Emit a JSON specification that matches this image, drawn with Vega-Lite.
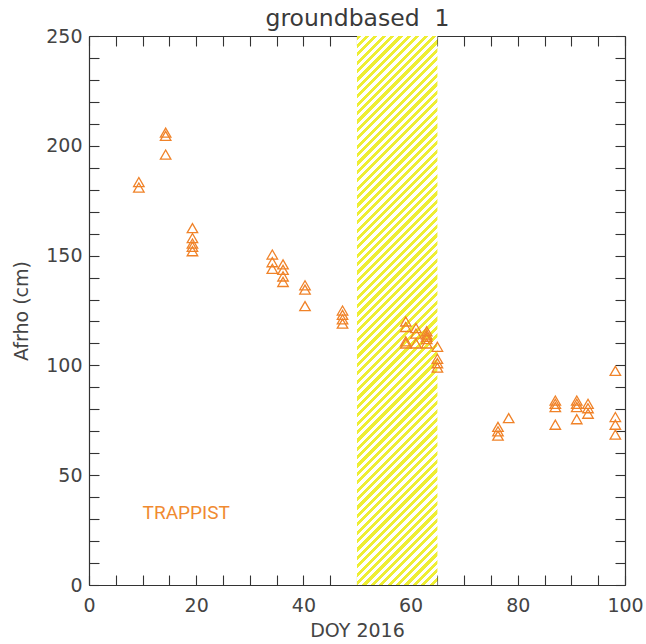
{
  "$schema": "https://vega.github.io/schema/vega-lite/v6.json",
  "description": "Afrho versus day of year 2016, ground-based TRAPPIST data with a hatched interval.",
  "width": 536,
  "height": 549,
  "autosize": "none",
  "padding": {"left": 89, "top": 36, "right": 21, "bottom": 59},
  "background": "white",
  "config": {
    "view": {"stroke": null},
    "axis": {
      "grid": false,
      "zindex": 1,
      "domainColor": "#333333",
      "domainWidth": 1.2,
      "tickColor": "#333333",
      "tickWidth": 1.1,
      "labelColor": "#444444",
      "titleColor": "#444444",
      "labelFont": "DejaVu Sans",
      "titleFont": "DejaVu Sans",
      "labelFontSize": 19,
      "titleFontSize": 19,
      "titleFontWeight": "normal",
      "labelOverlap": false,
      "labelFlush": false
    }
  },
  "datasets": {
    "band": [{"start": 50, "end": 65, "lo": 0, "hi": 250}],
    "points": [
      {"doy": 9.3, "afrho": 183.5}, {"doy": 9.3, "afrho": 181},
      {"doy": 14.3, "afrho": 206}, {"doy": 14.3, "afrho": 204.5}, {"doy": 14.3, "afrho": 196},
      {"doy": 19.3, "afrho": 162.5}, {"doy": 19.3, "afrho": 158}, {"doy": 19.3, "afrho": 155.5}, {"doy": 19.3, "afrho": 154}, {"doy": 19.3, "afrho": 152},
      {"doy": 34.2, "afrho": 150.5}, {"doy": 34.2, "afrho": 147}, {"doy": 34.2, "afrho": 144},
      {"doy": 36.2, "afrho": 146}, {"doy": 36.2, "afrho": 143.5}, {"doy": 36.2, "afrho": 140.5}, {"doy": 36.2, "afrho": 138},
      {"doy": 40.3, "afrho": 136.5}, {"doy": 40.3, "afrho": 134.5}, {"doy": 40.3, "afrho": 127},
      {"doy": 47.3, "afrho": 125}, {"doy": 47.3, "afrho": 123}, {"doy": 47.3, "afrho": 121}, {"doy": 47.3, "afrho": 119},
      {"doy": 59.1, "afrho": 120}, {"doy": 59.1, "afrho": 117.5}, {"doy": 59.1, "afrho": 111}, {"doy": 59.1, "afrho": 110},
      {"doy": 61, "afrho": 117}, {"doy": 61, "afrho": 114.5}, {"doy": 61, "afrho": 110},
      {"doy": 63, "afrho": 115.5}, {"doy": 63, "afrho": 114}, {"doy": 63, "afrho": 113}, {"doy": 63, "afrho": 112}, {"doy": 63, "afrho": 110},
      {"doy": 65, "afrho": 108.5}, {"doy": 65, "afrho": 103}, {"doy": 65, "afrho": 101}, {"doy": 65, "afrho": 99},
      {"doy": 76.3, "afrho": 72}, {"doy": 76.3, "afrho": 70}, {"doy": 76.3, "afrho": 68},
      {"doy": 78.3, "afrho": 76},
      {"doy": 87, "afrho": 84}, {"doy": 87, "afrho": 82.5}, {"doy": 87, "afrho": 81}, {"doy": 87, "afrho": 73},
      {"doy": 91, "afrho": 84}, {"doy": 91, "afrho": 82.5}, {"doy": 91, "afrho": 81}, {"doy": 91, "afrho": 75.5},
      {"doy": 93.1, "afrho": 82.5}, {"doy": 93.1, "afrho": 80.5}, {"doy": 93.1, "afrho": 78},
      {"doy": 98.2, "afrho": 97.5}, {"doy": 98.2, "afrho": 76.5}, {"doy": 98.2, "afrho": 73}, {"doy": 98.2, "afrho": 68.5}
    ],
    "note": [{"label": "TRAPPIST", "doy": 10, "afrho": 30}]
  },
  "layer": [
    {
      "data": {"name": "band"},
      "mark": {
        "type": "rect",
        "fill": {
          "gradient": "linear",
          "x1": 0, "y1": 0, "x2": 0.16437, "y2": 1.12238,
          "stops": [
            {"offset":0,"color":"#ee3"},
            {"offset":0.00667,"color":"#ee3"},{"offset":0.00667,"color":"#fff"},{"offset":0.01333,"color":"#fff"},{"offset":0.01333,"color":"#ee3"},
            {"offset":0.02,"color":"#ee3"},{"offset":0.02,"color":"#fff"},{"offset":0.02667,"color":"#fff"},{"offset":0.02667,"color":"#ee3"},
            {"offset":0.03333,"color":"#ee3"},{"offset":0.03333,"color":"#fff"},{"offset":0.04,"color":"#fff"},{"offset":0.04,"color":"#ee3"},
            {"offset":0.04667,"color":"#ee3"},{"offset":0.04667,"color":"#fff"},{"offset":0.05333,"color":"#fff"},{"offset":0.05333,"color":"#ee3"},
            {"offset":0.06,"color":"#ee3"},{"offset":0.06,"color":"#fff"},{"offset":0.06667,"color":"#fff"},{"offset":0.06667,"color":"#ee3"},
            {"offset":0.07333,"color":"#ee3"},{"offset":0.07333,"color":"#fff"},{"offset":0.08,"color":"#fff"},{"offset":0.08,"color":"#ee3"},
            {"offset":0.08667,"color":"#ee3"},{"offset":0.08667,"color":"#fff"},{"offset":0.09333,"color":"#fff"},{"offset":0.09333,"color":"#ee3"},
            {"offset":0.1,"color":"#ee3"},{"offset":0.1,"color":"#fff"},{"offset":0.10667,"color":"#fff"},{"offset":0.10667,"color":"#ee3"},
            {"offset":0.11333,"color":"#ee3"},{"offset":0.11333,"color":"#fff"},{"offset":0.12,"color":"#fff"},{"offset":0.12,"color":"#ee3"},
            {"offset":0.12667,"color":"#ee3"},{"offset":0.12667,"color":"#fff"},{"offset":0.13333,"color":"#fff"},{"offset":0.13333,"color":"#ee3"},
            {"offset":0.14,"color":"#ee3"},{"offset":0.14,"color":"#fff"},{"offset":0.14667,"color":"#fff"},{"offset":0.14667,"color":"#ee3"},
            {"offset":0.15333,"color":"#ee3"},{"offset":0.15333,"color":"#fff"},{"offset":0.16,"color":"#fff"},{"offset":0.16,"color":"#ee3"},
            {"offset":0.16667,"color":"#ee3"},{"offset":0.16667,"color":"#fff"},{"offset":0.17333,"color":"#fff"},{"offset":0.17333,"color":"#ee3"},
            {"offset":0.18,"color":"#ee3"},{"offset":0.18,"color":"#fff"},{"offset":0.18667,"color":"#fff"},{"offset":0.18667,"color":"#ee3"},
            {"offset":0.19333,"color":"#ee3"},{"offset":0.19333,"color":"#fff"},{"offset":0.2,"color":"#fff"},{"offset":0.2,"color":"#ee3"},
            {"offset":0.20667,"color":"#ee3"},{"offset":0.20667,"color":"#fff"},{"offset":0.21333,"color":"#fff"},{"offset":0.21333,"color":"#ee3"},
            {"offset":0.22,"color":"#ee3"},{"offset":0.22,"color":"#fff"},{"offset":0.22667,"color":"#fff"},{"offset":0.22667,"color":"#ee3"},
            {"offset":0.23333,"color":"#ee3"},{"offset":0.23333,"color":"#fff"},{"offset":0.24,"color":"#fff"},{"offset":0.24,"color":"#ee3"},
            {"offset":0.24667,"color":"#ee3"},{"offset":0.24667,"color":"#fff"},{"offset":0.25333,"color":"#fff"},{"offset":0.25333,"color":"#ee3"},
            {"offset":0.26,"color":"#ee3"},{"offset":0.26,"color":"#fff"},{"offset":0.26667,"color":"#fff"},{"offset":0.26667,"color":"#ee3"},
            {"offset":0.27333,"color":"#ee3"},{"offset":0.27333,"color":"#fff"},{"offset":0.28,"color":"#fff"},{"offset":0.28,"color":"#ee3"},
            {"offset":0.28667,"color":"#ee3"},{"offset":0.28667,"color":"#fff"},{"offset":0.29333,"color":"#fff"},{"offset":0.29333,"color":"#ee3"},
            {"offset":0.3,"color":"#ee3"},{"offset":0.3,"color":"#fff"},{"offset":0.30667,"color":"#fff"},{"offset":0.30667,"color":"#ee3"},
            {"offset":0.31333,"color":"#ee3"},{"offset":0.31333,"color":"#fff"},{"offset":0.32,"color":"#fff"},{"offset":0.32,"color":"#ee3"},
            {"offset":0.32667,"color":"#ee3"},{"offset":0.32667,"color":"#fff"},{"offset":0.33333,"color":"#fff"},{"offset":0.33333,"color":"#ee3"},
            {"offset":0.34,"color":"#ee3"},{"offset":0.34,"color":"#fff"},{"offset":0.34667,"color":"#fff"},{"offset":0.34667,"color":"#ee3"},
            {"offset":0.35333,"color":"#ee3"},{"offset":0.35333,"color":"#fff"},{"offset":0.36,"color":"#fff"},{"offset":0.36,"color":"#ee3"},
            {"offset":0.36667,"color":"#ee3"},{"offset":0.36667,"color":"#fff"},{"offset":0.37333,"color":"#fff"},{"offset":0.37333,"color":"#ee3"},
            {"offset":0.38,"color":"#ee3"},{"offset":0.38,"color":"#fff"},{"offset":0.38667,"color":"#fff"},{"offset":0.38667,"color":"#ee3"},
            {"offset":0.39333,"color":"#ee3"},{"offset":0.39333,"color":"#fff"},{"offset":0.4,"color":"#fff"},{"offset":0.4,"color":"#ee3"},
            {"offset":0.40667,"color":"#ee3"},{"offset":0.40667,"color":"#fff"},{"offset":0.41333,"color":"#fff"},{"offset":0.41333,"color":"#ee3"},
            {"offset":0.42,"color":"#ee3"},{"offset":0.42,"color":"#fff"},{"offset":0.42667,"color":"#fff"},{"offset":0.42667,"color":"#ee3"},
            {"offset":0.43333,"color":"#ee3"},{"offset":0.43333,"color":"#fff"},{"offset":0.44,"color":"#fff"},{"offset":0.44,"color":"#ee3"},
            {"offset":0.44667,"color":"#ee3"},{"offset":0.44667,"color":"#fff"},{"offset":0.45333,"color":"#fff"},{"offset":0.45333,"color":"#ee3"},
            {"offset":0.46,"color":"#ee3"},{"offset":0.46,"color":"#fff"},{"offset":0.46667,"color":"#fff"},{"offset":0.46667,"color":"#ee3"},
            {"offset":0.47333,"color":"#ee3"},{"offset":0.47333,"color":"#fff"},{"offset":0.48,"color":"#fff"},{"offset":0.48,"color":"#ee3"},
            {"offset":0.48667,"color":"#ee3"},{"offset":0.48667,"color":"#fff"},{"offset":0.49333,"color":"#fff"},{"offset":0.49333,"color":"#ee3"},
            {"offset":0.5,"color":"#ee3"},{"offset":0.5,"color":"#fff"},{"offset":0.50667,"color":"#fff"},{"offset":0.50667,"color":"#ee3"},
            {"offset":0.51333,"color":"#ee3"},{"offset":0.51333,"color":"#fff"},{"offset":0.52,"color":"#fff"},{"offset":0.52,"color":"#ee3"},
            {"offset":0.52667,"color":"#ee3"},{"offset":0.52667,"color":"#fff"},{"offset":0.53333,"color":"#fff"},{"offset":0.53333,"color":"#ee3"},
            {"offset":0.54,"color":"#ee3"},{"offset":0.54,"color":"#fff"},{"offset":0.54667,"color":"#fff"},{"offset":0.54667,"color":"#ee3"},
            {"offset":0.55333,"color":"#ee3"},{"offset":0.55333,"color":"#fff"},{"offset":0.56,"color":"#fff"},{"offset":0.56,"color":"#ee3"},
            {"offset":0.56667,"color":"#ee3"},{"offset":0.56667,"color":"#fff"},{"offset":0.57333,"color":"#fff"},{"offset":0.57333,"color":"#ee3"},
            {"offset":0.58,"color":"#ee3"},{"offset":0.58,"color":"#fff"},{"offset":0.58667,"color":"#fff"},{"offset":0.58667,"color":"#ee3"},
            {"offset":0.59333,"color":"#ee3"},{"offset":0.59333,"color":"#fff"},{"offset":0.6,"color":"#fff"},{"offset":0.6,"color":"#ee3"},
            {"offset":0.60667,"color":"#ee3"},{"offset":0.60667,"color":"#fff"},{"offset":0.61333,"color":"#fff"},{"offset":0.61333,"color":"#ee3"},
            {"offset":0.62,"color":"#ee3"},{"offset":0.62,"color":"#fff"},{"offset":0.62667,"color":"#fff"},{"offset":0.62667,"color":"#ee3"},
            {"offset":0.63333,"color":"#ee3"},{"offset":0.63333,"color":"#fff"},{"offset":0.64,"color":"#fff"},{"offset":0.64,"color":"#ee3"},
            {"offset":0.64667,"color":"#ee3"},{"offset":0.64667,"color":"#fff"},{"offset":0.65333,"color":"#fff"},{"offset":0.65333,"color":"#ee3"},
            {"offset":0.66,"color":"#ee3"},{"offset":0.66,"color":"#fff"},{"offset":0.66667,"color":"#fff"},{"offset":0.66667,"color":"#ee3"},
            {"offset":0.67333,"color":"#ee3"},{"offset":0.67333,"color":"#fff"},{"offset":0.68,"color":"#fff"},{"offset":0.68,"color":"#ee3"},
            {"offset":0.68667,"color":"#ee3"},{"offset":0.68667,"color":"#fff"},{"offset":0.69333,"color":"#fff"},{"offset":0.69333,"color":"#ee3"},
            {"offset":0.7,"color":"#ee3"},{"offset":0.7,"color":"#fff"},{"offset":0.70667,"color":"#fff"},{"offset":0.70667,"color":"#ee3"},
            {"offset":0.71333,"color":"#ee3"},{"offset":0.71333,"color":"#fff"},{"offset":0.72,"color":"#fff"},{"offset":0.72,"color":"#ee3"},
            {"offset":0.72667,"color":"#ee3"},{"offset":0.72667,"color":"#fff"},{"offset":0.73333,"color":"#fff"},{"offset":0.73333,"color":"#ee3"},
            {"offset":0.74,"color":"#ee3"},{"offset":0.74,"color":"#fff"},{"offset":0.74667,"color":"#fff"},{"offset":0.74667,"color":"#ee3"},
            {"offset":0.75333,"color":"#ee3"},{"offset":0.75333,"color":"#fff"},{"offset":0.76,"color":"#fff"},{"offset":0.76,"color":"#ee3"},
            {"offset":0.76667,"color":"#ee3"},{"offset":0.76667,"color":"#fff"},{"offset":0.77333,"color":"#fff"},{"offset":0.77333,"color":"#ee3"},
            {"offset":0.78,"color":"#ee3"},{"offset":0.78,"color":"#fff"},{"offset":0.78667,"color":"#fff"},{"offset":0.78667,"color":"#ee3"},
            {"offset":0.79333,"color":"#ee3"},{"offset":0.79333,"color":"#fff"},{"offset":0.8,"color":"#fff"},{"offset":0.8,"color":"#ee3"},
            {"offset":0.80667,"color":"#ee3"},{"offset":0.80667,"color":"#fff"},{"offset":0.81333,"color":"#fff"},{"offset":0.81333,"color":"#ee3"},
            {"offset":0.82,"color":"#ee3"},{"offset":0.82,"color":"#fff"},{"offset":0.82667,"color":"#fff"},{"offset":0.82667,"color":"#ee3"},
            {"offset":0.83333,"color":"#ee3"},{"offset":0.83333,"color":"#fff"},{"offset":0.84,"color":"#fff"},{"offset":0.84,"color":"#ee3"},
            {"offset":0.84667,"color":"#ee3"},{"offset":0.84667,"color":"#fff"},{"offset":0.85333,"color":"#fff"},{"offset":0.85333,"color":"#ee3"},
            {"offset":0.86,"color":"#ee3"},{"offset":0.86,"color":"#fff"},{"offset":0.86667,"color":"#fff"},{"offset":0.86667,"color":"#ee3"},
            {"offset":0.87333,"color":"#ee3"},{"offset":0.87333,"color":"#fff"},{"offset":0.88,"color":"#fff"},{"offset":0.88,"color":"#ee3"},
            {"offset":0.88667,"color":"#ee3"},{"offset":0.88667,"color":"#fff"},{"offset":0.89333,"color":"#fff"},{"offset":0.89333,"color":"#ee3"},
            {"offset":0.9,"color":"#ee3"},{"offset":0.9,"color":"#fff"},{"offset":0.90667,"color":"#fff"},{"offset":0.90667,"color":"#ee3"},
            {"offset":0.91333,"color":"#ee3"},{"offset":0.91333,"color":"#fff"},{"offset":0.92,"color":"#fff"},{"offset":0.92,"color":"#ee3"},
            {"offset":0.92667,"color":"#ee3"},{"offset":0.92667,"color":"#fff"},{"offset":0.93333,"color":"#fff"},{"offset":0.93333,"color":"#ee3"},
            {"offset":0.94,"color":"#ee3"},{"offset":0.94,"color":"#fff"},{"offset":0.94667,"color":"#fff"},{"offset":0.94667,"color":"#ee3"},
            {"offset":0.95333,"color":"#ee3"},{"offset":0.95333,"color":"#fff"},{"offset":0.96,"color":"#fff"},{"offset":0.96,"color":"#ee3"},
            {"offset":0.96667,"color":"#ee3"},{"offset":0.96667,"color":"#fff"},{"offset":0.97333,"color":"#fff"},{"offset":0.97333,"color":"#ee3"},
            {"offset":0.98,"color":"#ee3"},{"offset":0.98,"color":"#fff"},{"offset":0.98667,"color":"#fff"},{"offset":0.98667,"color":"#ee3"},
            {"offset":0.99333,"color":"#ee3"},{"offset":0.99333,"color":"#fff"},{"offset":1,"color":"#fff"}
          ]
        }
      },
      "encoding": {
        "x": {
          "field": "start",
          "type": "quantitative",
          "scale": {"domain": [0, 100], "nice": false, "zero": false},
          "axis": {
            "orient": "bottom",
            "values": [0, 5, 10, 15, 20, 25, 30, 35, 40, 45, 50, 55, 60, 65, 70, 75, 80, 85, 90, 95, 100],
            "labelExpr": "datum.value % 20 === 0 ? datum.label : ''",
            "tickSize": -10,
            "labelPadding": 21,
            "title": "DOY 2016",
            "titlePadding": 6,
            "encode": {"ticks": {"update": {"y2": {"signal": "datum.value % 20 === 0 ? -10 : -5"}}}}
          }
        },
        "x2": {"field": "end"},
        "y": {
          "field": "lo",
          "type": "quantitative",
          "scale": {"domain": [0, 250], "nice": false},
          "axis": {
            "orient": "left",
            "values": [0, 10, 20, 30, 40, 50, 60, 70, 80, 90, 100, 110, 120, 130, 140, 150, 160, 170, 180, 190, 200, 210, 220, 230, 240, 250],
            "labelExpr": "datum.value % 50 === 0 ? datum.label : ''",
            "tickSize": -10,
            "labelPadding": 17,
            "title": "Afrho (cm)",
            "titlePadding": 14,
            "encode": {"ticks": {"update": {"x2": {"signal": "datum.value % 50 === 0 ? 10 : 5"}}}}
          }
        },
        "y2": {"field": "hi"}
      }
    },
    {
      "data": {"name": "points"},
      "mark": {"type": "point", "shape": "triangle-up", "filled": false, "size": 110, "strokeWidth": 1.3, "color": "#f08228", "opacity": 1},
      "encoding": {
        "x": {
          "field": "doy",
          "type": "quantitative",
          "scale": {"domain": [0, 100], "nice": false, "zero": false},
          "axis": {
            "orient": "top",
            "values": [0, 5, 10, 15, 20, 25, 30, 35, 40, 45, 50, 55, 60, 65, 70, 75, 80, 85, 90, 95, 100],
            "labels": false,
            "tickSize": -10,
            "title": "groundbased\u00a0 1",
            "titleFontSize": 23.5,
            "titleColor": "#3a3a3a",
            "titlePadding": 5,
            "encode": {"ticks": {"update": {"y2": {"signal": "datum.value % 20 === 0 ? 10 : 5"}}}}
          }
        },
        "y": {
          "field": "afrho",
          "type": "quantitative",
          "scale": {"domain": [0, 250], "nice": false},
          "axis": {
            "orient": "right",
            "values": [0, 10, 20, 30, 40, 50, 60, 70, 80, 90, 100, 110, 120, 130, 140, 150, 160, 170, 180, 190, 200, 210, 220, 230, 240, 250],
            "labels": false,
            "tickSize": -10,
            "title": null,
            "encode": {"ticks": {"update": {"x2": {"signal": "datum.value % 50 === 0 ? -10 : -5"}}}}
          }
        }
      }
    },
    {
      "data": {"name": "note"},
      "mark": {"type": "text", "align": "left", "baseline": "alphabetic", "font": "Roboto", "fontSize": 19, "color": "#f08a30"},
      "encoding": {
        "x": {"field": "doy", "type": "quantitative", "scale": {"domain": [0, 100], "nice": false, "zero": false}, "axis": null},
        "y": {"field": "afrho", "type": "quantitative", "scale": {"domain": [0, 250], "nice": false}, "axis": null},
        "text": {"field": "label"}
      }
    }
  ],
  "resolve": {"axis": {"x": "independent", "y": "independent"}}
}
